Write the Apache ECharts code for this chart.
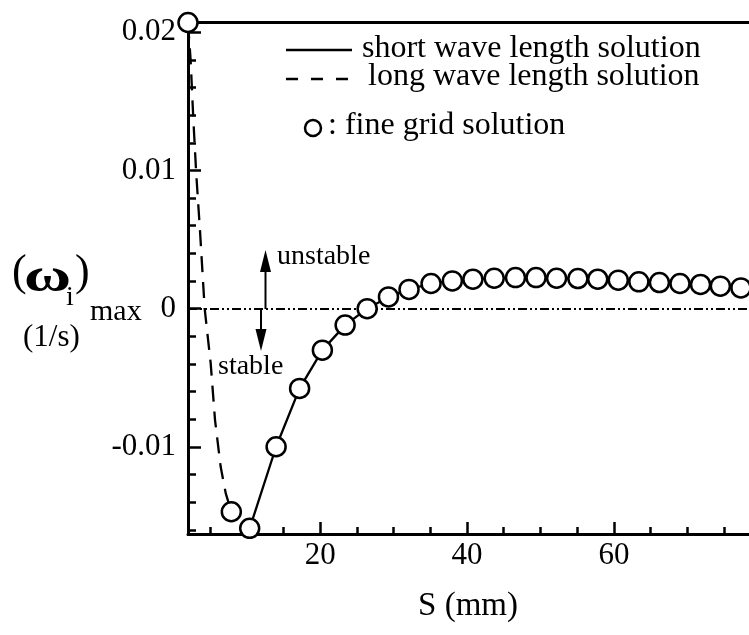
<!DOCTYPE html>
<html>
<head>
<meta charset="utf-8">
<script src="https://cdn.jsdelivr.net/npm/echarts@6/dist/echarts.min.js"></script>
<style>
  html, body { margin: 0; padding: 0; background: #fff; }
  #chart { width: 749px; height: 635px; }
</style>
</head>
<body>
<div id="chart"></div>
<script>
// ---- data ----
const xMin = 2, xMax = 78.4;
const yMin = -0.0163, yMax = 0.0207;
const xTickLabels = [20, 40, 60];
const xMinorTicks = [5, 10, 15, 25, 30, 35, 45, 50, 55, 65, 70, 75];
const yTickLabels = [-0.01, 0, 0.01, 0.02];
const yMinorTicks = [-0.016, -0.014, -0.012, -0.008, -0.006, -0.004, -0.002, 0.002, 0.004, 0.006, 0.008, 0.012, 0.014, 0.016, 0.018];

// long wave length solution (dashed)
const longS = [2.0, 2.36, 2.71, 3.12, 3.63, 4.27, 5.09, 5.68, 6.45, 7.14, 7.9];
const longW = [0.0207, 0.01796, 0.01387, 0.00977, 0.00567, 0.0, -0.00396, -0.00806, -0.01144, -0.01336, -0.01469];

// short wave length solution (solid)
const shortS = [10.4, 14.0, 17.2, 20.3, 23.4, 26.4, 29.3, 32.1, 35.1, 38.0, 40.8, 43.7, 46.6, 49.4, 52.2, 55.1, 57.8, 60.6, 63.4, 66.2, 69.0, 71.8, 74.5, 77.3];
const shortW = [-0.01589, -0.00999, -0.00577, -0.00300, -0.00119, 0.0, 0.00085, 0.00139, 0.00182, 0.00201, 0.00213, 0.00220, 0.00225, 0.00225, 0.00220, 0.00218, 0.00213, 0.00206, 0.00194, 0.00189, 0.00182, 0.00175, 0.00163, 0.00150];

// fine grid solution (circles)
const fineS = [2.0, 7.9, 10.4, 14.0, 17.2, 20.3, 23.4, 26.4, 29.3, 32.1, 35.1, 38.0, 40.8, 43.7, 46.6, 49.4, 52.2, 55.1, 57.8, 60.6, 63.4, 66.2, 69.0, 71.8, 74.5, 77.3];
const fineW = [0.0207, -0.01469, -0.01589, -0.00999, -0.00577, -0.00300, -0.00119, 0.0, 0.00085, 0.00139, 0.00182, 0.00201, 0.00213, 0.00220, 0.00225, 0.00225, 0.00220, 0.00218, 0.00213, 0.00206, 0.00194, 0.00189, 0.00182, 0.00175, 0.00163, 0.00150];

const zip = (a, b) => a.map((v, i) => [v, b[i]]);
const FONT = '"Liberation Serif", "DejaVu Serif", serif';
const BLACK = '#000';

const chart = echarts.init(document.getElementById('chart'), null, { renderer: 'canvas' });

const gridPos = { left: 188, right: 0, top: 22.5, bottom: 101, containLabel: false };

const option = {
  animation: false,
  backgroundColor: '#fff',
  grid: [Object.assign({}, gridPos), Object.assign({}, gridPos)],
  xAxis: [
    {
      gridIndex: 0, type: 'value', min: xMin, max: xMax, position: 'bottom',
      axisLine: { show: true, onZero: false, lineStyle: { color: BLACK, width: 3 } },
      axisTick: { show: true, inside: true, length: 7, customValues: xMinorTicks, lineStyle: { color: BLACK, width: 2.5 } },
      axisLabel: { show: true, customValues: xTickLabels, fontSize: 31, fontFamily: FONT, color: BLACK, margin: 6 },
      splitLine: { show: false }
    },
    {
      gridIndex: 0, type: 'value', min: xMin, max: xMax, position: 'top',
      axisLine: { show: true, onZero: false, lineStyle: { color: BLACK, width: 3 } },
      axisTick: { show: false }, axisLabel: { show: false }, splitLine: { show: false }
    },
    {
      gridIndex: 1, type: 'value', min: xMin, max: xMax, position: 'bottom',
      axisLine: { show: false, onZero: false },
      axisTick: { show: true, inside: true, length: 12, customValues: xTickLabels, lineStyle: { color: BLACK, width: 2.5 } },
      axisLabel: { show: false }, splitLine: { show: false }
    }
  ],
  yAxis: [
    {
      gridIndex: 0, type: 'value', min: yMin, max: yMax, position: 'left',
      axisLine: { show: true, onZero: false, lineStyle: { color: BLACK, width: 3 } },
      axisTick: { show: true, inside: true, length: 8, customValues: yMinorTicks, lineStyle: { color: BLACK, width: 2.5 } },
      axisLabel: {
        show: true, customValues: yTickLabels, fontSize: 31, fontFamily: FONT, color: BLACK, margin: 12,
        formatter: v => (Math.abs(v) < 1e-12 ? '0' : String(Math.round(v * 1000) / 1000))
      },
      splitLine: { show: false }
    },
    {
      gridIndex: 1, type: 'value', min: yMin, max: yMax, position: 'left',
      axisLine: { show: false, onZero: false },
      axisTick: { show: true, inside: true, length: 13, customValues: yTickLabels, lineStyle: { color: BLACK, width: 2.5 } },
      axisLabel: { show: false }, splitLine: { show: false }
    }
  ],
  series: [
    {
      name: 'long wave length solution', type: 'line', xAxisIndex: 0, yAxisIndex: 0,
      data: zip(longS, longW), symbol: 'none', smooth: false, clip: false,
      lineStyle: { color: BLACK, width: 2.3, type: [16, 10] }, z: 3
    },
    {
      name: 'short wave length solution', type: 'line', xAxisIndex: 0, yAxisIndex: 0,
      data: zip(shortS, shortW), symbol: 'none', smooth: false, clip: false,
      lineStyle: { color: BLACK, width: 2.3 }, z: 3,
      markLine: {
        silent: true, symbol: 'none', label: { show: false },
        lineStyle: { color: BLACK, width: 2, type: [9, 3, 2, 3, 2, 3] },
        data: [{ yAxis: 0 }]
      }
    },
    {
      name: 'fine grid solution', type: 'scatter', xAxisIndex: 0, yAxisIndex: 0,
      data: zip(fineS, fineW), symbol: 'circle', symbolSize: 19, clip: false,
      itemStyle: { color: '#fff', borderColor: BLACK, borderWidth: 2.5, opacity: 1 }, z: 5
    }
  ],
  graphic: [
    // legend
    { type: 'line', shape: { x1: 286, y1: 50, x2: 352, y2: 50 }, style: { stroke: BLACK, lineWidth: 2.5 } },
    { type: 'text', x: 362, y: 49, style: { text: 'short wave length solution', font: '32px ' + FONT, fill: BLACK, verticalAlign: 'middle' } },
    { type: 'line', shape: { x1: 286, y1: 79, x2: 352, y2: 79 }, style: { stroke: BLACK, lineWidth: 2.5, lineDash: [12, 13] } },
    { type: 'text', x: 368, y: 77, style: { text: 'long wave length solution', font: '32px ' + FONT, fill: BLACK, verticalAlign: 'middle' } },
    { type: 'circle', shape: { cx: 313, cy: 128, r: 8 }, style: { stroke: BLACK, fill: '#fff', lineWidth: 2.5 } },
    { type: 'text', x: 328, y: 126, style: { text: ': fine grid solution', font: '32px ' + FONT, fill: BLACK, verticalAlign: 'middle' } },
    // unstable / stable annotations
    { type: 'line', shape: { x1: 265.5, y1: 309, x2: 265.5, y2: 270 }, style: { stroke: BLACK, lineWidth: 2 } },
    { type: 'polygon', shape: { points: [[260, 272], [271, 272], [265.5, 250]] }, style: { fill: BLACK } },
    { type: 'line', shape: { x1: 261, y1: 309, x2: 261, y2: 331 }, style: { stroke: BLACK, lineWidth: 2 } },
    { type: 'polygon', shape: { points: [[255.5, 329], [266.5, 329], [261, 351]] }, style: { fill: BLACK } },
    { type: 'text', x: 277, y: 257, style: { text: 'unstable', font: '28px ' + FONT, fill: BLACK, verticalAlign: 'middle' } },
    { type: 'text', x: 218, y: 367, style: { text: 'stable', font: '28px ' + FONT, fill: BLACK, verticalAlign: 'middle' } },
    // y axis title
    { type: 'text', x: 12, y: 273, style: { text: '(', font: '44px ' + FONT, fill: BLACK, verticalAlign: 'middle' } },
    { type: 'text', x: 24, y: 279, scaleX: 1.4, style: { text: 'ω', font: 'bold 46px ' + FONT, fill: BLACK, verticalAlign: 'middle' } },
    { type: 'text', x: 66, y: 298, style: { text: 'i', font: '28px ' + FONT, fill: BLACK, verticalAlign: 'middle' } },
    { type: 'text', x: 75, y: 273, style: { text: ')', font: '44px ' + FONT, fill: BLACK, verticalAlign: 'middle' } },
    { type: 'text', x: 90, y: 312, style: { text: 'max', font: '30px ' + FONT, fill: BLACK, verticalAlign: 'middle' } },
    { type: 'text', x: 23, y: 338, style: { text: '(1/s)', font: '31px ' + FONT, fill: BLACK, verticalAlign: 'middle' } },
    // x axis title
    { type: 'text', x: 468, y: 606, style: { text: 'S (mm)', font: '33px ' + FONT, fill: BLACK, align: 'center', verticalAlign: 'middle' } }
  ]
};

chart.setOption(option);
</script>
</body>
</html>
